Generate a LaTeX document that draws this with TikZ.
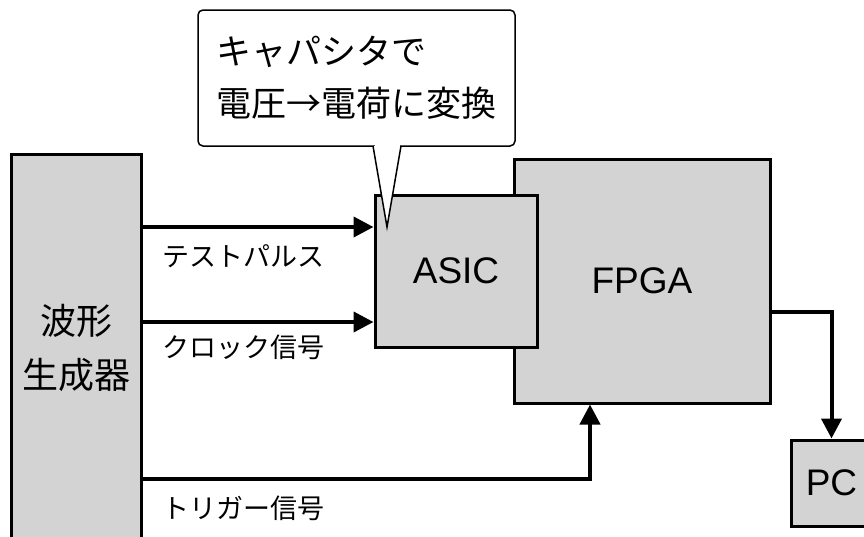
\documentclass[tikz,border=0pt]{standalone}
\usepackage{fontspec}
\setmainfont{Noto Sans CJK JP}
\newfontfamily\latinfont{Liberation Sans}
\usetikzlibrary{arrows.meta, positioning}
\definecolor{boxgray}{RGB}{211,211,211}

\begin{document}
\begin{tikzpicture}[x=1pt, y=-1pt,
    block/.style={draw, line width=3pt, fill=boxgray, inner sep=0pt},
    chip/.style={font=\latinfont\fontsize{37}{40}\selectfont},
    sig/.style={line width=4pt, -{Triangle[length=20pt,width=20pt]}},
    lbl/.style={anchor=west, inner sep=0pt, font=\fontsize{27}{30}\selectfont}]

    \useasboundingbox (0,0) rectangle (864,536);

    \coordinate (tp)  at (0,227);
    \coordinate (clk) at (0,322);
    \coordinate (trg) at (0,479);
    \coordinate (trgx) at (590,0);
    \coordinate (out) at (0,312);
    \coordinate (tip) at (387,227);

    \node[block, chip, minimum width=256pt, minimum height=244pt] (fpga) at (642,281) {FPGA};
    \node[block, chip, minimum width=162pt, minimum height=152pt] (asic) at (456,271) {ASIC};
    \node[block, minimum width=130pt, minimum height=388pt, align=center,
          font=\fontsize{36}{54}\selectfont] (gen) at (76,348) {波形\\生成器};
    \node[block, chip, minimum width=81pt, minimum height=86pt] (pc) at (831.5,483) {PC};

    \draw[sig] (gen.east |- tp) -- (asic.west |- tp);
    \draw[sig] (gen.east |- clk) -- (asic.west |- clk);
    \draw[sig] (gen.east |- trg) -| (trgx |- fpga.south);
    \draw[sig] (fpga.east |- out) -| (pc.north);

    \node[lbl] (tpl)  at (162,256) {テストパルス};
    \node[lbl] (clkl) at (162,347) {クロック信号};
    \node[lbl] (trgl) at (162,508) {トリガー信号};

    % callout
    \node[draw, line width=1.5pt, rounded corners=5pt, fill=white, align=left,
          minimum width=317pt, minimum height=136pt, inner sep=0pt,
          font=\fontsize{35}{52}\selectfont] (note) at (356.5,78) {キャパシタで\\電圧→電荷に変換};
    \fill[white] (374.5,144) rectangle (399.5,148);
    \draw[line width=1.5pt, fill=white] (373,146) -- (tip) -- (401,146);
\end{tikzpicture}
\end{document}
